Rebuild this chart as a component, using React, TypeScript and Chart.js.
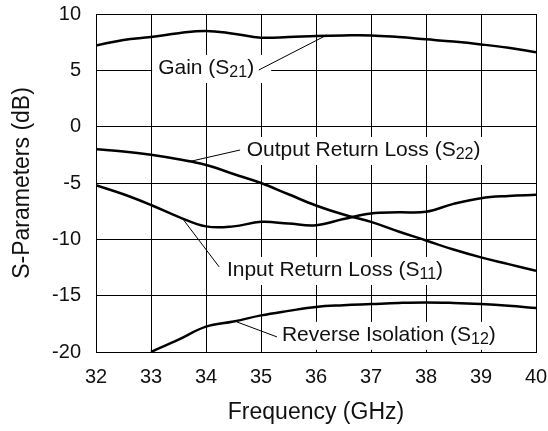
import React, { useEffect, useRef } from "react";
import { Chart, registerables } from "chart.js";

Chart.register(...registerables);

// ---- data ----
const freq = [32, 32.5, 33, 33.5, 34, 34.5, 35, 35.5, 36, 36.5, 37, 37.5, 38, 38.5, 39, 39.5, 40];
const gainS21 = [7.2, 7.7, 7.95, 8.3, 8.5, 8.25, 7.9, 7.95, 8.05, 8.1, 8.1, 7.95, 7.75, 7.55, 7.3, 7.0, 6.6];
const outputS22 = [-2.0, -2.2, -2.5, -2.9, -3.4, -4.2, -5.0, -6.0, -7.0, -7.8, -8.45, -9.3, -10.1, -10.9, -11.6, -12.2, -12.8];
const inputS11 = [-5.2, -6.0, -6.95, -8.0, -8.85, -8.85, -8.45, -8.6, -8.75, -8.2, -7.7, -7.6, -7.55, -6.85, -6.35, -6.15, -6.05];
const freqS12 = [33, 33.5, 34, 34.5, 35, 35.5, 36, 36.5, 37, 37.5, 38, 38.5, 39, 39.5, 40];
const reverseS12 = [-20.0, -18.9, -17.75, -17.3, -16.75, -16.35, -16.0, -15.85, -15.75, -15.65, -15.6, -15.65, -15.75, -15.9, -16.1];

const xMin = 32;
const xMax = 40;
const yMin = -20;
const yMax = 10;

// ---- series labels ----
const labelMain = ["Gain (S", "Output Return Loss (S", "Input Return Loss (S", "Reverse Isolation (S"];
const labelSub = ["21", "22", "11", "12"];
const labelX = [33.13, 34.74, 34.38, 35.38];
const labelY = [5.3, -1.98, -12.63, -18.39];
const leaderCurveX = [36.2, 33.67, 33.58, 34.56];
const leaderCurveY = [8.14, -3.13, -8.2, -17.33];
const leaderEndX = [34.96, 34.62, 34.24, 35.29];
const leaderEndY = [5.03, -2.07, -12.45, -18.66];
const boxPadRight = [17, 6, 6, 6];

const FONT = '"Liberation Sans", Arial, Helvetica, sans-serif';
const TEXT = "#111";

const toPts = (xs: number[], ys: number[]) => xs.map((x, i) => ({ x, y: ys[i] }));

const measureLabel = (ctx: CanvasRenderingContext2D, i: number) => {
  ctx.font = `21px ${FONT}`;
  const w1 = ctx.measureText(labelMain[i]).width;
  const w3 = ctx.measureText(")").width;
  ctx.font = `16px ${FONT}`;
  const w2 = ctx.measureText(labelSub[i]).width;
  return { w1, w2, w3 };
};

const labelPlugin = {
  id: "seriesLabels",
  beforeDatasetsDraw(chart: any) {
    const { ctx, scales } = chart;
    const x = scales.x;
    const y = scales.y;
    ctx.save();
    ctx.fillStyle = "#fff";
    for (let i = 0; i < labelMain.length; i++) {
      const px = x.getPixelForValue(labelX[i]);
      const py = y.getPixelForValue(labelY[i]);
      const { w1, w2, w3 } = measureLabel(ctx, i);
      const w = w1 + w2 + w3;
      ctx.fillRect(px - 6, py - 12, w + 6 + boxPadRight[i], 28);
    }
    ctx.restore();
  },
  afterDatasetsDraw(chart: any) {
    const { ctx, scales } = chart;
    const x = scales.x;
    const y = scales.y;
    ctx.save();
    ctx.strokeStyle = "#000";
    ctx.lineWidth = 1;
    for (let i = 0; i < labelMain.length; i++) {
      ctx.beginPath();
      ctx.moveTo(x.getPixelForValue(leaderCurveX[i]), y.getPixelForValue(leaderCurveY[i]));
      ctx.lineTo(x.getPixelForValue(leaderEndX[i]), y.getPixelForValue(leaderEndY[i]));
      ctx.stroke();
    }
    ctx.fillStyle = TEXT;
    ctx.textBaseline = "alphabetic";
    ctx.textAlign = "left";
    for (let i = 0; i < labelMain.length; i++) {
      const px = x.getPixelForValue(labelX[i]);
      const py = y.getPixelForValue(labelY[i]);
      const { w1, w2 } = measureLabel(ctx, i);
      const base = py + 7.5;
      ctx.font = `21px ${FONT}`;
      ctx.fillText(labelMain[i], px, base);
      ctx.font = `16px ${FONT}`;
      ctx.fillText(labelSub[i], px + w1, base + 3);
      ctx.font = `21px ${FONT}`;
      ctx.fillText(")", px + w1 + w2, base);
    }
    ctx.restore();
  },
};

export default function App() {
  const ref = useRef<HTMLCanvasElement | null>(null);

  useEffect(() => {
    if (!ref.current) return;
    const lineStyle = {
      borderColor: "#000",
      borderWidth: 2.5,
      pointRadius: 0,
      fill: false,
      tension: 0.4,
    };
    const chart = new Chart(ref.current, {
      type: "line",
      data: {
        datasets: [
          { label: "Gain (S21)", data: toPts(freq, gainS21), ...lineStyle },
          { label: "Output Return Loss (S22)", data: toPts(freq, outputS22), ...lineStyle },
          { label: "Input Return Loss (S11)", data: toPts(freq, inputS11), ...lineStyle },
          { label: "Reverse Isolation (S12)", data: toPts(freqS12, reverseS12), ...lineStyle },
        ],
      },
      options: {
        responsive: false,
        animation: false,
        layout: { padding: { left: 0, right: 12, top: 14, bottom: 0 } },
        plugins: {
          legend: { display: false },
          tooltip: { enabled: false },
        },
        scales: {
          x: {
            type: "linear",
            min: xMin,
            max: xMax,
            afterFit: (s: any) => {
              s.height = 79;
              s.paddingLeft = 0;
              s.paddingRight = 0;
            },
            ticks: {
              stepSize: 1,
              padding: 13,
              color: TEXT,
              font: { family: FONT, size: 20 },
            },
            grid: { color: "#000", lineWidth: 1, drawTicks: false },
            border: { display: true, color: "#000", width: 1 },
            title: {
              display: true,
              text: "Frequency (GHz)",
              color: TEXT,
              font: { family: FONT, size: 23, weight: "normal" },
              padding: { top: 0, bottom: 5 },
            },
          },
          y: {
            type: "linear",
            min: yMin,
            max: yMax,
            afterFit: (s: any) => {
              s.width = 96;
              s.paddingTop = 0;
              s.paddingBottom = 0;
            },
            ticks: {
              stepSize: 5,
              padding: 15,
              color: TEXT,
              font: { family: FONT, size: 20 },
            },
            grid: { color: "#000", lineWidth: 1, drawTicks: false },
            border: { display: true, color: "#000", width: 1 },
            title: {
              display: true,
              text: "S-Parameters (dB)",
              color: TEXT,
              font: { family: FONT, size: 23, weight: "normal" },
              padding: { top: 9, bottom: 0 },
            },
          },
        },
      },
      plugins: [labelPlugin],
    });
    return () => chart.destroy();
  }, []);

  return (
    <div style={{ position: "fixed", left: 0, top: 0, width: 548, height: 431, background: "#fff" }}>
      <canvas ref={ref} width={548} height={431} style={{ display: "block" }} />
    </div>
  );
}
